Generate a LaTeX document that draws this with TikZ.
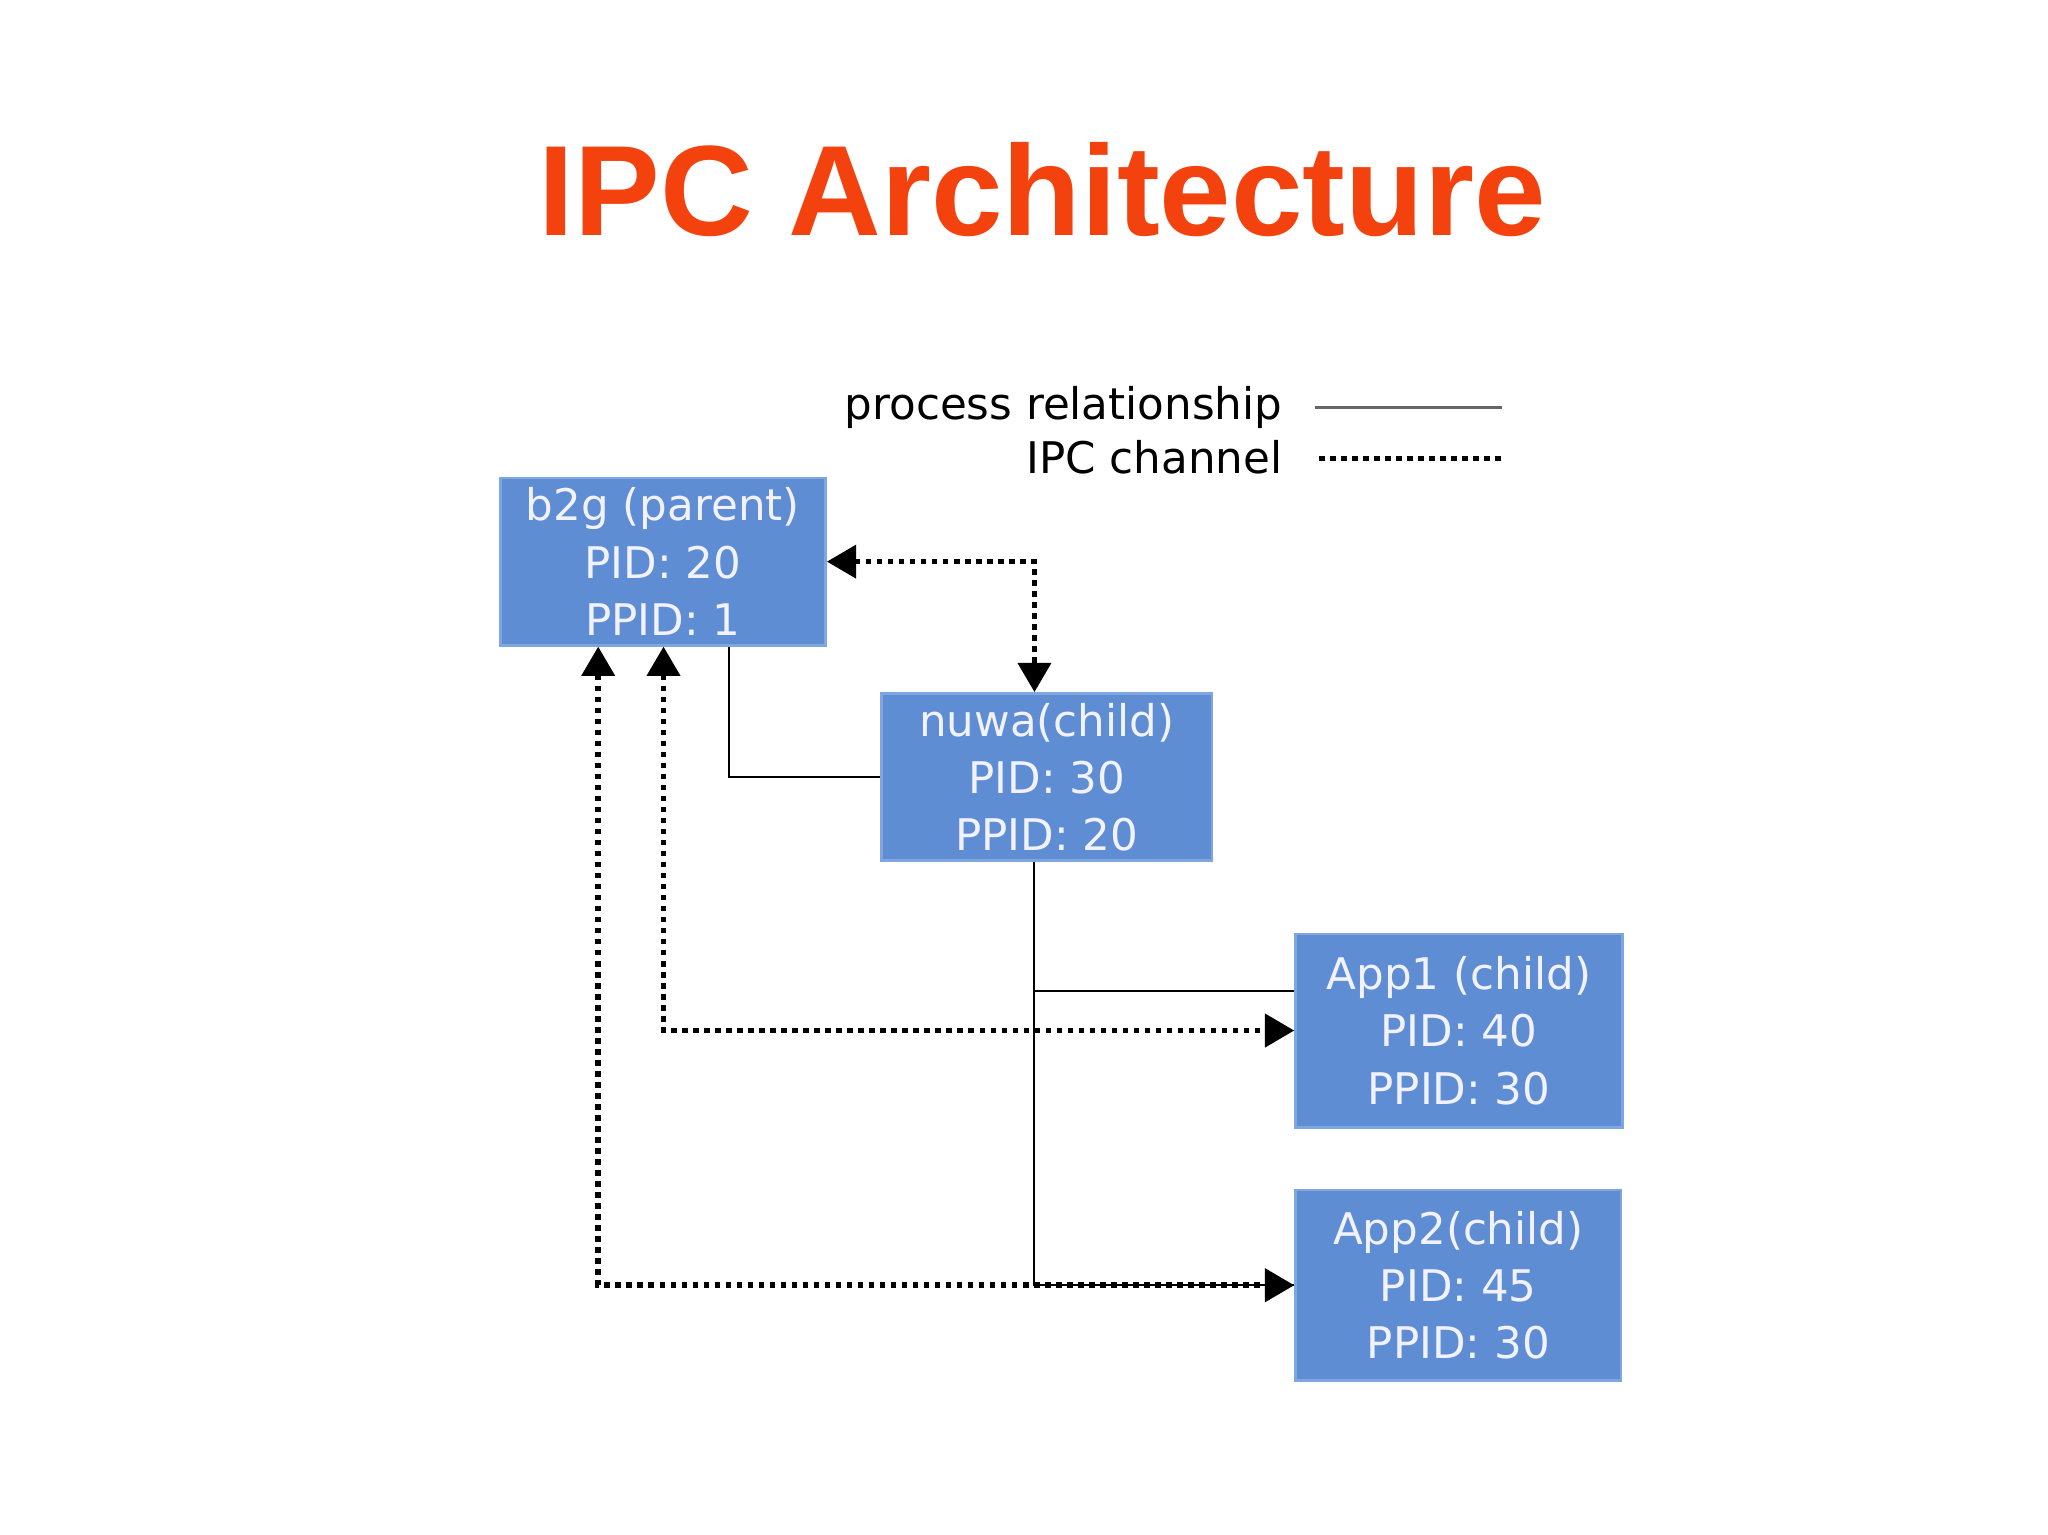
\documentclass[tikz,border=0pt]{standalone}
\usepackage{fontspec}
\setmainfont{DejaVu Sans}
\newfontfamily\titlefont{Liberation Sans}
\usetikzlibrary{arrows.meta}
\definecolor{boxfill}{HTML}{5F8DD3}
\definecolor{boxline}{HTML}{7FA6E0}
\definecolor{titlered}{HTML}{F4420F}
\begin{document}
\begin{tikzpicture}[x=0.02cm,y=-0.02cm,
  box/.style={draw=boxline,line width=1.2pt,fill=boxfill,text=white!95!blue,inner sep=0pt,align=center,font=\fontsize{19}{25}\selectfont},
  rel/.style={draw=black,line width=0.9pt},
  ipc/.style={draw=black,line width=2.4pt,dash pattern=on 2.4pt off 2.4pt},
  >={Triangle[length=0.45cm,width=0.5cm]}]
\useasboundingbox (0,0) rectangle (1568,1175);
\node[font=\titlefont\bfseries\fontsize{56}{60}\selectfont,text=titlered] (title) at (798,145) {IPC Architecture};
\node[box,minimum width=249*0.02cm,minimum height=128*0.02cm] (b2g) at (507.5,430) {b2g (parent)\\PID: 20\\PPID: 1};
\node[box,minimum width=253*0.02cm,minimum height=128*0.02cm] (nuwa) at (801.5,595) {nuwa(child)\\PID: 30\\PPID: 20};
\node[box,minimum width=250*0.02cm,minimum height=148*0.02cm] (app1) at (1117,789) {App1 (child)\\PID: 40\\PPID: 30};
\node[box,minimum width=249*0.02cm,minimum height=146*0.02cm] (app2) at (1116.5,984) {App2(child)\\PID: 45\\PPID: 30};
% legend
\node[anchor=east,font=\fontsize{19}{22}\selectfont] (l1) at (988,312) {process relationship};
\node[anchor=east,font=\fontsize{19}{22}\selectfont] (l2) at (988,350) {IPC channel};
\coordinate (l1a) at (1007,312); \coordinate (l1b) at (1150,312);
\coordinate (l2a) at (1010,351); \coordinate (l2b) at (1150,351);
\draw[draw=gray!80!black,line width=1.5pt] (l1a) -- (l1b);
\draw[ipc] (l2a) -- (l2b);
% process relationships
\draw[rel] (b2g.south -| 558,0) |- (nuwa.west);
\draw[rel] (nuwa.south -| 792,0) |- (app2.west);
\draw[rel] (792,759) -- (app1.west |- 0,759);
% ipc channels
\draw[ipc,<->] (b2g.east) -| (nuwa.north -| 792,0);
\draw[ipc,<->] (b2g.south -| 508,0) |- (app1.west);
\draw[ipc,<->] (b2g.south -| 458,0) |- (app2.west);
\end{tikzpicture}
\end{document}
